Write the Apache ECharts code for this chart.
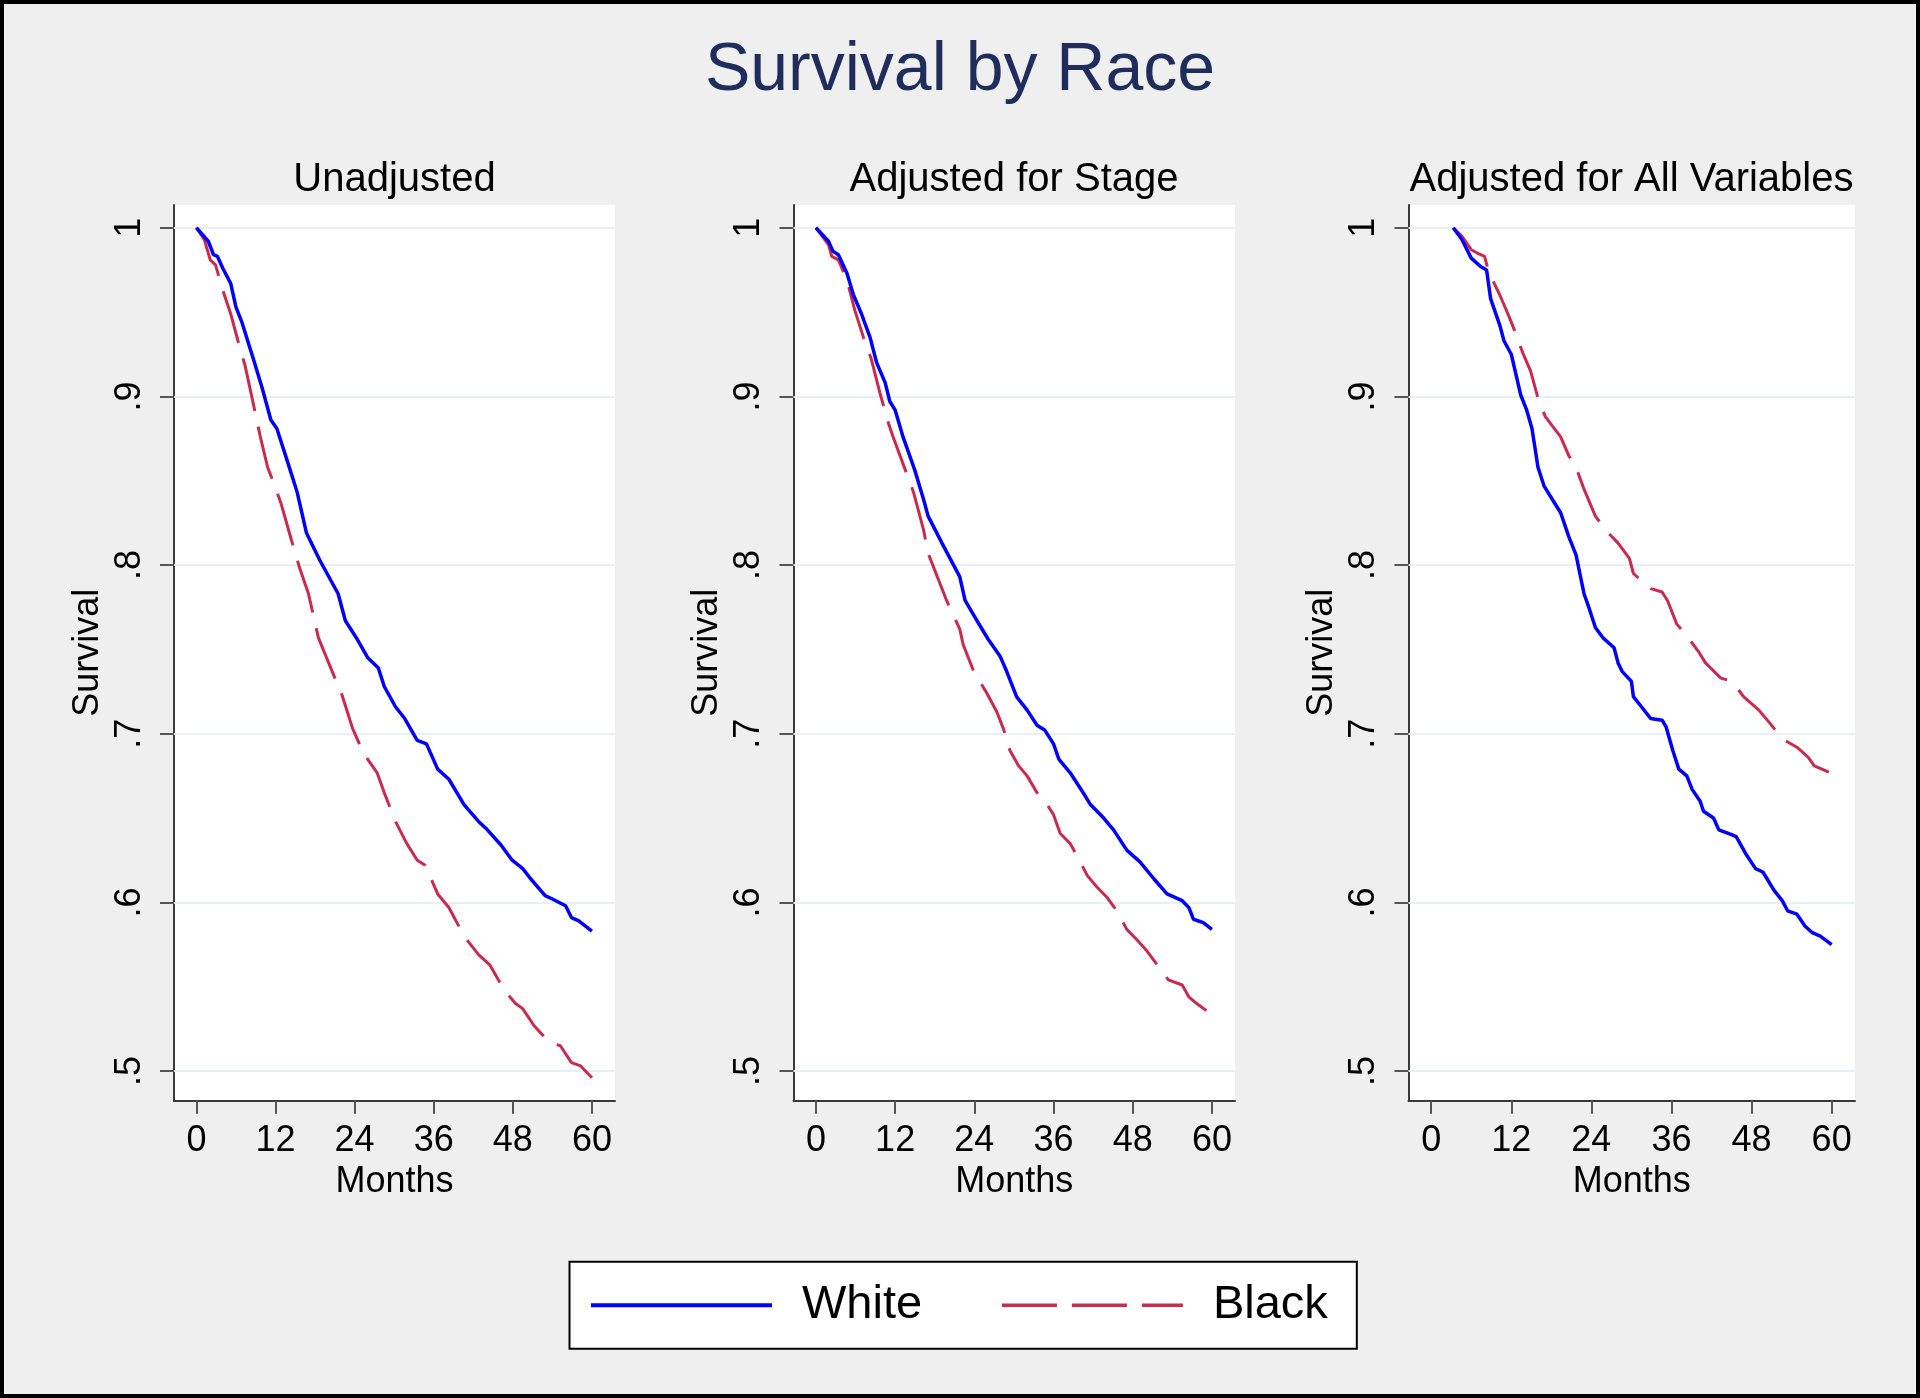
<!DOCTYPE html>
<html>
<head>
<meta charset="utf-8">
<script src="https://cdn.jsdelivr.net/npm/echarts@6/dist/echarts.min.js"></script>
<style>
html,body{margin:0;padding:0;background:#efefef;}
#chart{width:1920px;height:1398px;}
</style>
</head>
<body>
<div id="chart"></div>
<script>
// ---- data ----
const mainTitle = 'Survival by Race';
const panelTitles = ['Unadjusted', 'Adjusted for Stage', 'Adjusted for All Variables'];
const seriesNames = ['White', 'Black'];
const xTicks = [0, 12, 24, 36, 48, 60];
const yTicks = [0.5, 0.6, 0.7, 0.8, 0.9, 1];
const yTickLabels = ['.5', '.6', '.7', '.8', '.9', '1'];
const xAxisTitle = 'Months';
const yAxisTitle = 'Survival';

// Panel 1: Unadjusted
const p1WhiteMonths = [0, 1.8, 2.6, 3.2, 4.0, 5.2, 6.0, 6.9, 8.5, 9.9, 11.3, 12.2, 13.6, 15.3, 16.7, 18.7, 21.5, 22.6, 24.4, 26.0, 27.6, 28.5, 30.2, 31.6, 33.5, 34.9, 36.6, 38.3, 40.6, 42.8, 43.9, 46.2, 47.9, 49.5, 50.7, 52.9, 54.0, 56.0, 56.9, 58.0, 60.0];
const p1WhiteSurv   = [1, .992, .984, .983, .976, .967, .953, .944, .924, .906, .886, .881, .864, .843, .819, .803, .783, .767, .756, .745, .739, .728, .716, .709, .696, .694, .679, .673, .658, .648, .644, .634, .625, .620, .614, .604, .602, .598, .591, .589, .583];
const p1BlackMonths = [0, 1.2, 2.1, 2.9, 4.0, 5.2, 6.3, 7.4, 8.5, 9.7, 10.8, 11.6, 12.8, 14.4, 15.6, 17.0, 18.5, 20.9, 22.0, 23.7, 25.4, 27.4, 28.5, 30.2, 31.9, 33.5, 34.7, 36.6, 38.3, 40.6, 42.8, 44.5, 46.7, 48.4, 49.5, 51.2, 53.5, 55.2, 56.9, 58.3, 60.0];
const p1BlackSurv   = [1, .993, .981, .978, .963, .949, .933, .918, .898, .876, .858, .850, .837, .815, .799, .783, .757, .734, .724, .703, .688, .677, .665, .648, .635, .625, .622, .605, .597, .580, .569, .563, .548, .540, .537, .527, .517, .515, .505, .503, .496];

// Panel 2: Adjusted for Stage
const p2WhiteMonths = [0, 1.9, 2.6, 3.4, 4.7, 5.7, 6.9, 8.2, 9.2, 10.5, 11.2, 12.0, 13.2, 15.0, 16.3, 17.0, 19.1, 21.8, 22.6, 24.4, 26.1, 27.9, 28.9, 30.4, 32.0, 33.5, 34.7, 36.0, 36.8, 38.5, 40.5, 41.6, 43.6, 45.1, 47.1, 49.1, 51.2, 53.2, 55.5, 56.5, 57.2, 58.7, 60.0];
const p2WhiteSurv   = [1, .992, .986, .984, .973, .960, .949, .935, .920, .908, .897, .892, .876, .856, .839, .829, .813, .793, .779, .767, .756, .746, .737, .722, .714, .705, .702, .694, .685, .677, .665, .658, .650, .643, .631, .624, .614, .605, .601, .597, .590, .588, .584];
const p2BlackMonths = [0, 1.9, 2.4, 3.4, 4.7, 5.9, 7.2, 8.4, 9.7, 11.0, 11.7, 13.2, 14.8, 16.3, 17.0, 18.6, 19.8, 21.8, 22.3, 23.9, 25.9, 27.4, 28.4, 29.4, 30.7, 32.0, 33.5, 34.7, 36.0, 37.0, 38.5, 39.8, 41.1, 42.6, 44.1, 45.6, 47.1, 48.6, 50.2, 51.7, 53.4, 55.5, 56.5, 57.7, 59.8];
const p2BlackSurv   = [1, .990, .983, .981, .969, .951, .935, .922, .902, .884, .876, .860, .843, .821, .807, .791, .779, .762, .753, .737, .724, .713, .703, .690, .681, .675, .665, .660, .652, .641, .635, .626, .616, .609, .603, .595, .584, .578, .571, .563, .554, .551, .544, .540, .534];

// Panel 3: Adjusted for All Variables
const p3WhiteMonths = [3.3, 4.6, 6.0, 7.4, 8.3, 8.9, 10.3, 10.9, 12.0, 13.4, 14.3, 15.1, 16.0, 16.9, 18.3, 19.4, 20.6, 21.7, 22.9, 23.7, 24.6, 25.7, 27.4, 28.0, 28.6, 30.0, 30.3, 31.5, 32.9, 34.6, 35.2, 36.2, 37.1, 38.3, 39.1, 40.3, 40.8, 42.3, 43.1, 45.1, 45.7, 47.1, 48.6, 49.7, 51.4, 52.6, 53.4, 54.8, 56.0, 57.1, 58.3, 60.0];
const p3WhiteSurv   = [1, .993, .982, .977, .975, .958, .942, .933, .925, .901, .892, .881, .858, .847, .838, .831, .817, .806, .783, .774, .763, .757, .751, .742, .737, .731, .722, .716, .709, .708, .704, .690, .679, .675, .667, .660, .654, .650, .643, .640, .639, .629, .620, .618, .607, .601, .595, .593, .586, .582, .580, .575];
const p3BlackMonths = [3.3, 4.6, 6.0, 6.9, 8.0, 8.6, 10.3, 11.7, 12.6, 13.7, 14.9, 16.0, 17.1, 19.4, 20.6, 21.7, 22.9, 24.6, 26.3, 28.0, 29.7, 30.3, 31.7, 32.9, 34.6, 35.4, 36.8, 38.3, 40.0, 41.1, 43.4, 45.1, 46.8, 49.1, 50.8, 52.6, 54.8, 56.5, 57.4, 59.7];
const p3BlackSurv   = [1, .995, .987, .985, .983, .974, .960, .947, .938, .926, .915, .899, .888, .876, .865, .858, .845, .829, .820, .813, .804, .795, .790, .786, .784, .779, .765, .758, .749, .742, .733, .731, .722, .714, .706, .697, .692, .686, .681, .677];

// ---- layout / style ----
const FONT = '"Liberation Sans", Arial, Helvetica, sans-serif';
const WHITE_COLOR = '#0000ff';
const BLACK_COLOR = '#c92a4e';
const panels = [
  { left: 174, width: 441, center: 394.5, white: [p1WhiteMonths, p1WhiteSurv], black: [p1BlackMonths, p1BlackSurv] },
  { left: 793.5, width: 441.5, center: 1014, white: [p2WhiteMonths, p2WhiteSurv], black: [p2BlackMonths, p2BlackSurv] },
  { left: 1408.5, width: 446.5, center: 1631.5, white: [p3WhiteMonths, p3WhiteSurv], black: [p3BlackMonths, p3BlackSurv] }
];
const GRID_TOP = 205, GRID_HEIGHT = 895.7;

function pairs(xs, ys) { return xs.map((x, i) => [x, ys[i]]); }

const grids = [], xAxes = [], yAxes = [], series = [], graphics = [];
panels.forEach((p, i) => {
  grids.push({ left: p.left, top: GRID_TOP, width: p.width, height: GRID_HEIGHT,
    show: true, backgroundColor: '#ffffff', borderWidth: 0, containLabel: false });
  xAxes.push({
    type: 'value', gridIndex: i, min: -3.4, max: 63.5,
    name: xAxisTitle, nameLocation: 'middle', nameGap: 61,
    nameTextStyle: { fontSize: 36, color: '#000', fontFamily: FONT },
    axisLine: { show: true, onZero: false, lineStyle: { color: '#3a3a3a', width: 2 } },
    axisTick: { show: true, length: 13, customValues: xTicks, lineStyle: { color: '#555', width: 2 } },
    axisLabel: { show: true, customValues: xTicks, margin: 22, fontSize: 36, color: '#000', fontFamily: FONT },
    splitLine: { show: false }
  });
  yAxes.push({
    type: 'value', gridIndex: i, min: 0.4824, max: 1.0135,
    name: yAxisTitle, nameLocation: 'middle', nameGap: 68, nameRotate: 90,
    nameTextStyle: { fontSize: 36, color: '#000', fontFamily: FONT },
    axisLine: { show: true, onZero: false, lineStyle: { color: '#3a3a3a', width: 2 } },
    axisTick: { show: true, length: 14, customValues: yTicks, lineStyle: { color: '#555', width: 2 } },
    axisLabel: { show: true, customValues: yTicks, rotate: 90, margin: 26, fontSize: 36, color: '#000', fontFamily: FONT,
      formatter: function (v) { const k = yTicks.findIndex(t => Math.abs(t - v) < 1e-6); return k >= 0 ? yTickLabels[k] : ''; } },
    splitLine: { show: false }
  });
  series.push({
    name: seriesNames[0], type: 'line', xAxisIndex: i, yAxisIndex: i,
    data: pairs(p.white[0], p.white[1]), symbol: 'none', z: 4,
    lineStyle: { color: WHITE_COLOR, width: 3.5 }, itemStyle: { color: WHITE_COLOR },
    markLine: { silent: true, symbol: 'none', z: 1, animation: false,
      label: { show: false },
      lineStyle: { color: '#e8f0f2', width: 2, type: 'solid' },
      emphasis: { disabled: true },
      data: yTicks.map(v => ({ yAxis: v })) }
  });
  series.push({
    name: seriesNames[1], type: 'line', xAxisIndex: i, yAxisIndex: i,
    data: pairs(p.black[0], p.black[1]), symbol: 'none', z: 3,
    lineStyle: { color: BLACK_COLOR, width: 3, type: [54, 16] }, itemStyle: { color: BLACK_COLOR }
  });
  graphics.push({
    type: 'text', x: p.center, y: 180,
    style: { text: panelTitles[i], fill: '#000', font: '40px ' + FONT, textAlign: 'center', textVerticalAlign: 'middle' }
  });
});

graphics.push({
  type: 'text', x: 960, y: 71,
  style: { text: mainTitle, fill: '#1e2d5c', font: '68px ' + FONT, textAlign: 'center', textVerticalAlign: 'middle' }
});
graphics.push({
  type: 'rect', shape: { x: 2, y: 2, width: 1916, height: 1394 },
  style: { fill: 'none', stroke: '#000', lineWidth: 4 }, z: 100
});

const chart = echarts.init(document.getElementById('chart'), null, { renderer: 'canvas' });
chart.setOption({
  animation: false,
  backgroundColor: '#efefef',
  grid: grids,
  xAxis: xAxes,
  yAxis: yAxes,
  series: series,
  legend: {
    left: 569.5, top: 1261.7, orient: 'horizontal',
    padding: [20, 29, 20, 19.5],
    itemWidth: 181, itemHeight: 47, itemGap: 78,
    backgroundColor: '#ffffff', borderColor: '#000', borderWidth: 2, borderRadius: 0,
    selectedMode: false,
    itemStyle: { color: 'rgba(0,0,0,0)', borderWidth: 0, opacity: 0 },
    textStyle: { fontSize: 47, color: '#000', fontFamily: FONT, lineHeight: 37, padding: [10, 0, 0, 25] },
    data: [
      { name: seriesNames[0], itemStyle: { color: 'rgba(0,0,0,0)', borderWidth: 0, opacity: 0 },
        lineStyle: { color: WHITE_COLOR, width: 4, type: 'solid' } },
      { name: seriesNames[1], itemStyle: { color: 'rgba(0,0,0,0)', borderWidth: 0, opacity: 0 },
        lineStyle: { color: BLACK_COLOR, width: 3.5, type: [55, 15] } }
    ]
  },
  graphic: graphics
});
</script>
</body>
</html>
